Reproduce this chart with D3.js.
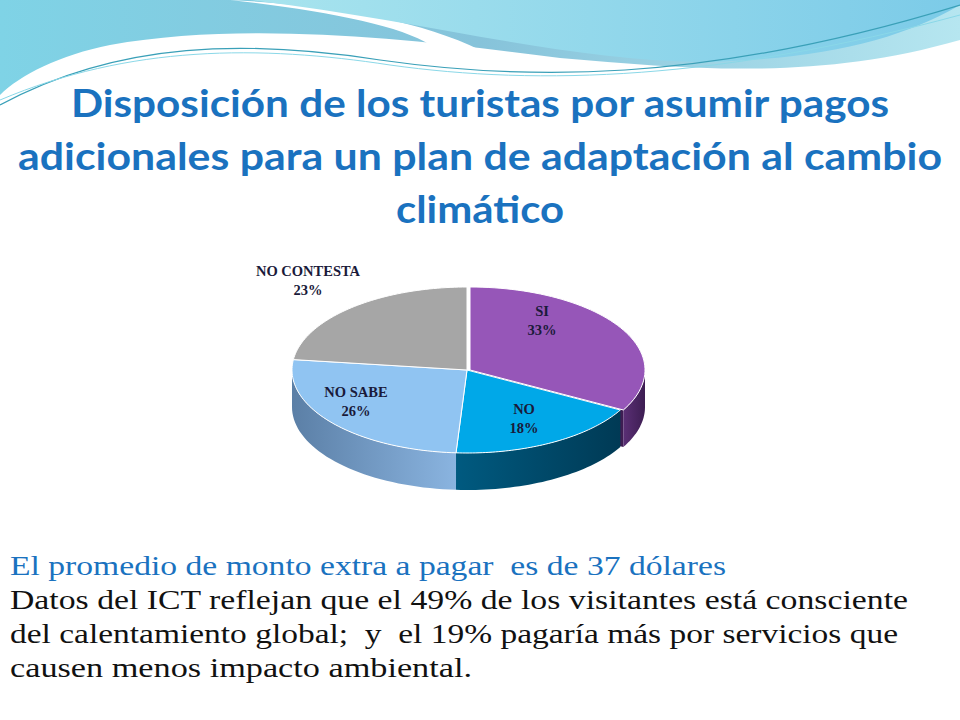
<!DOCTYPE html>
<html>
<head>
<meta charset="utf-8">
<script src="https://d3js.org/d3.v7.min.js"></script>
<style>
html, body { margin: 0; padding: 0; background: #fff; }
svg { display: block; }
text { white-space: pre; }
</style>
</head>
<body>
<svg id="chart" width="960" height="720"></svg>
<script>
// Data
const categories = ["SI", "NO", "NO SABE", "NO CONTESTA"];
const values = [33, 18, 26, 23];
const topColors = ["#9656b8", "#00a8e8", "#90c4f2", "#a6a6a6"];
const sideColors = [["#5a2f75", "#3d1d52"], ["#005a80", "#003a55"], ["#5b7fa6", "#8ab4e0"], ["#7a7a7a", "#5a5a5a"]];
const titleLines = ["Disposición de los turistas por asumir pagos", "adicionales para un plan de adaptación al cambio", "climático"];
const titleWidths = [818, 924, 168];
const noteLines = [
  "El promedio de monto extra a pagar  es de 37 dólares",
  "Datos del ICT reflejan que el 49% de los visitantes está consciente",
  "del calentamiento global;  y  el 19% pagaría más por servicios que",
  "causen menos impacto ambiental."
];
const noteWidths = [716, 898, 888, 462];

const svg = d3.select("#chart");
const defs = svg.append("defs");

// header waves
const g1 = defs.append("linearGradient").attr("id", "wave1").attr("x1", 0).attr("x2", 1);
g1.append("stop").attr("offset", 0).attr("stop-color", "#7fd3e6");
g1.append("stop").attr("offset", 0.5).attr("stop-color", "#86c3da");
g1.append("stop").attr("offset", 1).attr("stop-color", "#b6e6f0");
const g2 = defs.append("linearGradient").attr("id", "wave2").attr("x1", 0).attr("x2", 1);
g2.append("stop").attr("offset", 0).attr("stop-color", "#a8e4ee");
g2.append("stop").attr("offset", 1).attr("stop-color", "#7ccbe8");

svg.append("path").attr("fill", "url(#wave1)")
  .attr("d", "M0,0 H960 V40 C820,80 700,70 560,58 C420,40 250,20 110,45 C60,55 20,75 0,95 Z");
svg.append("path").attr("fill", "#fff")
  .attr("d", "M230,0 C320,10 400,25 430,45 C470,60 500,62 480,50 C420,20 330,5 230,0 Z");
svg.append("path").attr("fill", "url(#wave2)")
  .attr("d", "M250,0 H960 V5 C900,40 820,60 700,62 C560,60 420,20 250,0 Z");
svg.append("path").attr("fill", "none").attr("stroke", "#3aa0b8").attr("stroke-width", 1.2)
  .attr("d", "M0,105 C120,40 250,40 380,60 C520,80 700,85 960,5");
svg.append("path").attr("fill", "none").attr("stroke", "#8ad8e8").attr("stroke-width", 1)
  .attr("d", "M0,100 C130,45 260,45 390,65 C540,86 720,80 960,15");

// title
svg.append("g").selectAll("text").data(titleLines).join("text")
  .attr("x", 480).attr("y", (d, i) => 117 + i * 53)
  .attr("text-anchor", "middle")
  .attr("font-family", "Lato, 'Open Sans', sans-serif")
  .attr("font-weight", "bold").attr("font-size", 38)
  .attr("textLength", (d, i) => titleWidths[i]).attr("lengthAdjust", "spacingAndGlyphs")
  .attr("fill", "#1a72bf").text(d => d);

// 3D pie
const cx = 467, cy = 370, rx = 175, ry = 83, depth = 37;
const pie = d3.pie().sort(null).value(d => d)(values);
const pt = (a, dy, off) => [cx + off[0] + rx * Math.sin(a), cy + off[1] - ry * Math.cos(a) + dy];
const offsets = pie.map((d, i) => i === 0 ? [3, 0] : [0, 0]);

const pieG = svg.append("g");
pie.forEach((d, i) => {
  const a0 = Math.max(d.startAngle, Math.PI / 2), a1 = Math.min(d.endAngle, 3 * Math.PI / 2);
  if (a1 <= a0) return;
  const gid = "side" + i;
  const lg = defs.append("linearGradient").attr("id", gid).attr("x1", 0).attr("x2", 1);
  lg.append("stop").attr("offset", 0).attr("stop-color", sideColors[i][0]);
  lg.append("stop").attr("offset", 1).attr("stop-color", sideColors[i][1]);
  const n = 40, top = [], bot = [];
  for (let k = 0; k <= n; k++) {
    const a = a0 + (a1 - a0) * k / n;
    top.push(pt(a, 0, offsets[i]));
    bot.push(pt(a, depth, offsets[i]));
  }
  pieG.append("path").attr("fill", `url(#${gid})`)
    .attr("d", d3.line()(top.concat(bot.reverse())) + "Z");
});
{
  const d = pie[0], o = offsets[0];
  const e = pt(d.endAngle, 0, o), eb = pt(d.endAngle, depth, o);
  pieG.append("path").attr("fill", "#3d1d52")
    .attr("d", d3.line()([e, eb, [cx + o[0], cy + depth], [cx + o[0], cy]]) + "Z").lower();
}
pie.forEach((d, i) => {
  const o = offsets[i], n = 60, pts = [[cx + o[0], cy + o[1]]];
  for (let k = 0; k <= n; k++) pts.push(pt(d.startAngle + (d.endAngle - d.startAngle) * k / n, 0, o));
  pieG.append("path").attr("fill", topColors[i]).attr("stroke", "#fff").attr("stroke-width", 1)
    .attr("d", d3.line()(pts) + "Z");
});

// labels
const labelPos = [[542, 316], [524, 414], [356, 397], [308, 276]];
const lab = svg.append("g").attr("font-family", "'Liberation Serif', serif")
  .attr("font-weight", "bold").attr("font-size", 14.5).attr("fill", "#1a1a3a").attr("text-anchor", "middle");
pie.forEach((d, i) => {
  const t = lab.append("text").attr("x", labelPos[i][0]).attr("y", labelPos[i][1]);
  t.append("tspan").attr("x", labelPos[i][0]).text(categories[i]);
  t.append("tspan").attr("x", labelPos[i][0]).attr("dy", 19).text(d3.format(".0f")(d.value) + "%");
});

// notes
svg.append("g").selectAll("text").data(noteLines).join("text")
  .attr("x", 10).attr("y", (d, i) => 575 + i * 34)
  .attr("font-family", "'Liberation Serif', 'DejaVu Serif', serif")
  .attr("font-size", 28)
  .attr("textLength", (d, i) => noteWidths[i]).attr("lengthAdjust", "spacingAndGlyphs")
  .attr("fill", (d, i) => i === 0 ? "#1a72bf" : "#111")
  .text(d => d);
</script>
</body>
</html>
